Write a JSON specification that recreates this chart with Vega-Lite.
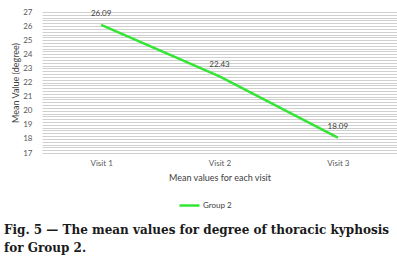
{
  "$schema": "https://vega.github.io/schema/vega-lite/v6.json",
  "autosize": "none",
  "width": 355,
  "height": 141,
  "padding": {"left": 42, "top": 12, "right": 0, "bottom": 109},
  "background": "white",
  "data": {"values": [
    {"visit": "Visit 1", "value": 26.09, "group": "Group 2"},
    {"visit": "Visit 2", "value": 22.43, "group": "Group 2"},
    {"visit": "Visit 3", "value": 18.09, "group": "Group 2"}
  ]},
  "title": {
    "text": ["Fig. 5 \u2014 The mean values for degree of thoracic kyphosis", "for Group 2."],
    "orient": "bottom",
    "anchor": "start",
    "frame": "group",
    "font": "DejaVu Serif",
    "fontSize": 12,
    "fontWeight": "bold",
    "color": "#1a1a1a",
    "lineHeight": 18,
    "dx": -38,
    "offset": 14
  },
  "config": {"view": {"stroke": null}},
  "encoding": {
    "x": {"field": "visit", "type": "ordinal", "scale": {"type": "point", "padding": 0.5},
      "axis": {"title": "Mean values for each visit", "labelAngle": 0, "domain": false, "ticks": false,
        "labelFont": "Lato", "labelFontSize": 8, "labelColor": "#595959", "labelPadding": 6,
        "titleFont": "Lato", "titleFontSize": 9, "titleFontWeight": "normal", "titleColor": "#404040", "titlePadding": 6}},
    "y": {"field": "value", "type": "quantitative", "scale": {"domain": [17, 27], "nice": false, "zero": false},
      "axis": {"title": "Mean Value (degree)", "values": [17,17.2,17.4,17.6,17.8,18,18.2,18.4,18.6,18.8,19,19.2,19.4,19.6,19.8,20,20.2,20.4,20.6,20.8,21,21.2,21.4,21.6,21.8,22,22.2,22.4,22.6,22.8,23,23.2,23.4,23.6,23.8,24,24.2,24.4,24.6,24.8,25,25.2,25.4,25.6,25.8,26,26.2,26.4,26.6,26.8,27],
        "labelExpr": "abs(datum.value - round(datum.value)) < 0.01 ? format(datum.value, 'd') : ''",
        "domain": false, "ticks": false, "grid": true, "gridColor": "#d0d0d0", "gridWidth": 1,
        "labelFont": "Lato", "labelFontSize": 8, "labelColor": "#595959", "labelPadding": 10,
        "titleFont": "Lato", "titleFontSize": 9, "titleFontWeight": "normal", "titleColor": "#404040", "titlePadding": 2}}
  },
  "layer": [
    {
      "mark": {"type": "line", "strokeWidth": 2.5},
      "encoding": {
        "color": {"field": "group", "type": "nominal", "scale": {"range": ["#33e633"]},
          "legend": {"title": null, "orient": "none", "legendX": 136, "legendY": 182,
            "symbolType": "M-1,0H1", "symbolSize": 400, "symbolStrokeWidth": 2.5,
            "labelFont": "Lato", "labelFontSize": 8, "labelColor": "#404040", "labelOffset": 2}}
      }
    },
    {
      "mark": {"type": "text", "dy": -11, "font": "Lato", "fontSize": 8, "color": "#404040"},
      "encoding": {"text": {"field": "value", "type": "quantitative", "format": ".2f"}}
    }
  ]
}
